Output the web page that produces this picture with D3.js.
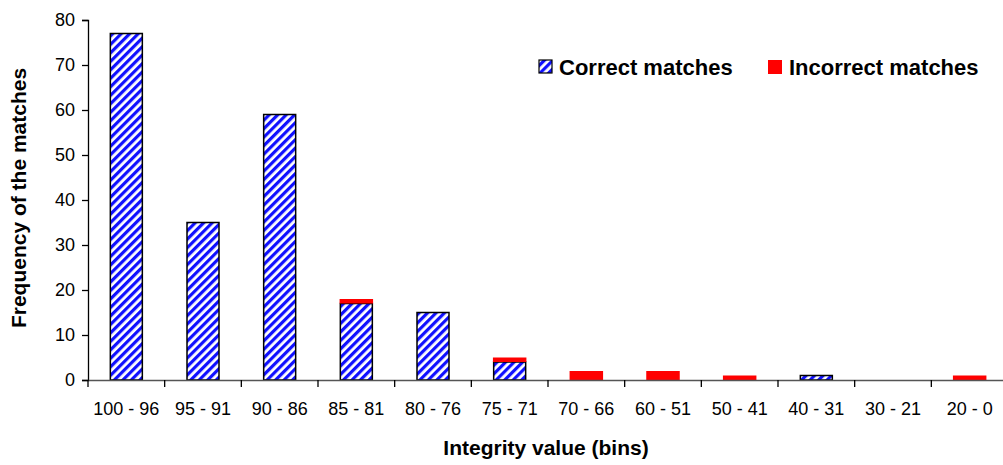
<!DOCTYPE html>
<html><head><meta charset="utf-8">
<script src="https://cdn.jsdelivr.net/npm/d3@7"></script>
<style>body{margin:0;background:#fff}svg{display:block;font-family:"Liberation Sans",Arial,sans-serif}</style>
</head><body>
<svg id="c" width="1003" height="465"></svg>
<script>
const categories = ["100 - 96","95 - 91","90 - 86","85 - 81","80 - 76","75 - 71","70 - 66","60 - 51","50 - 41","40 - 31","30 - 21","20 - 0"];
const correct   = [77, 35, 59, 17, 15, 4, 0, 0, 0, 1, 0, 0];
const incorrect = [0, 0, 0, 1, 0, 1, 2, 2, 1, 0, 0, 1];
const yTicks = [0,10,20,30,40,50,60,70,80];
const seriesNames = ["Correct matches","Incorrect matches"];

const svg = d3.select("#c");
const defs = svg.append("defs");
const pat = defs.append("pattern").attr("id","stripes").attr("patternUnits","userSpaceOnUse")
  .attr("width",6).attr("height",6).attr("patternTransform","rotate(45)");
pat.append("rect").attr("width",6).attr("height",6).attr("fill","#ffffff");
pat.append("rect").attr("width",3.2).attr("height",6).attr("fill","#1010ff");

const x = d3.scaleBand().domain(categories).range([88,1008]).paddingInner(0).paddingOuter(0);
const y = d3.scaleLinear().domain([0,80]).range([380,20]);
const bw = 32;

// y axis
const ya = svg.append("g").attr("transform","translate(88,0)")
  .call(d3.axisLeft(y).tickValues(yTicks).tickSize(6).tickPadding(7));
ya.select(".domain").attr("stroke","#000").attr("stroke-width",1.3);
ya.selectAll(".tick line").attr("stroke","#000").attr("stroke-width",1.3);
ya.selectAll("text").attr("font-size",18).attr("fill","#000").style("font-family","Liberation Sans, Arial");

// bars
const g = svg.append("g");
categories.forEach((c,i)=>{
  const cx = x(c) + x.bandwidth()/2;
  if (correct[i] > 0) {
    g.append("rect").attr("x",cx-bw/2).attr("width",bw)
      .attr("y",y(correct[i])).attr("height",y(0)-y(correct[i]))
      .attr("fill","url(#stripes)").attr("stroke","#000").attr("stroke-width",1.5);
  }
  if (incorrect[i] > 0) {
    g.append("rect").attr("x",cx-bw/2-0.75).attr("width",bw+1.5)
      .attr("y",y(correct[i]+incorrect[i])).attr("height",y(correct[i])-y(correct[i]+incorrect[i]))
      .attr("fill","#ff0000");
  }
});

// x axis
const xa = svg.append("g").attr("transform","translate(0,380)")
  .call(d3.axisBottom(x).tickSize(0).tickPadding(22));
xa.select(".domain").attr("stroke","#555").attr("stroke-width",1.5);
xa.selectAll("text").attr("font-size",18).attr("fill","#000").style("font-family","Liberation Sans, Arial");
const bounds = categories.map(c=>x(c)).concat([x(categories[categories.length-1])+x.bandwidth()]);
xa.selectAll(".sep").data(bounds).enter().append("line").attr("class","sep")
  .attr("x1",d=>d).attr("x2",d=>d).attr("y1",0).attr("y2",7).attr("stroke","#000").attr("stroke-width",1.3);

// titles
svg.append("text").attr("x",546).attr("y",455).attr("text-anchor","middle")
  .attr("font-size",21).attr("font-weight","bold").text("Integrity value (bins)");
svg.append("text").attr("transform","translate(26,198) rotate(-90)").attr("text-anchor","middle")
  .attr("font-size",21).attr("font-weight","bold").text("Frequency of the matches");

// legend
const lg = svg.append("g");
lg.append("rect").attr("x",539).attr("y",60).attr("width",13).attr("height",13)
  .attr("fill","url(#stripes)").attr("stroke","#000").attr("stroke-width",1.2);
lg.append("text").attr("x",559).attr("y",75).attr("font-size",22).attr("font-weight","bold").text(seriesNames[0]);
lg.append("rect").attr("x",768).attr("y",60).attr("width",14).attr("height",14).attr("fill","#ff0000");
lg.append("text").attr("x",789).attr("y",75).attr("font-size",22).attr("font-weight","bold").text(seriesNames[1]);
</script>
</body></html>
